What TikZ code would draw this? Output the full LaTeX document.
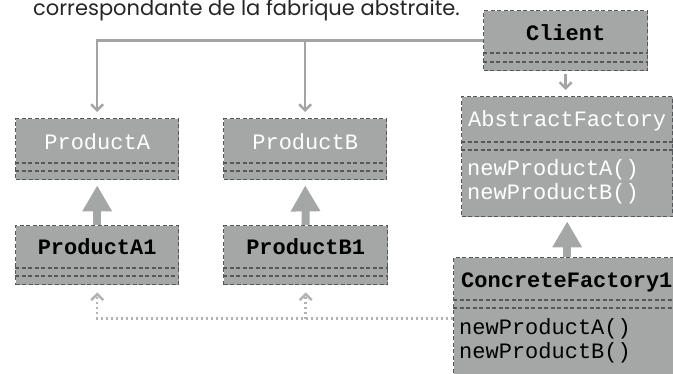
\documentclass[tikz,border=0pt]{standalone}
\usepackage{fontspec}
\setmainfont{Poppins}
\setmonofont{Liberation Mono}
\usetikzlibrary{arrows.meta,calc}
\definecolor{boxfill}{HTML}{A5A7A6}
\definecolor{boxline}{HTML}{55585B}
\definecolor{linkgray}{HTML}{A4A4A4}
\def\classseps(#1)(#2:#3){\draw[sepline] ($(#1.north west)+(0,#2)$) -- ($(#1.north east)+(0,#2)$);
  \draw[sepline] ($(#1.north west)+(0,#3)$) -- ($(#1.north east)+(0,#3)$);}
\tikzset{
  classbox/.style={draw=boxline, fill=boxfill, line width=1.4pt, dash pattern=on 4pt off 2.5pt, anchor=north west, inner sep=0pt},
  sepline/.style={draw=boxline, line width=1.4pt, dash pattern=on 4pt off 2.5pt},
  absname/.style={text=white, anchor=base, font=\fontsize{22}{26}\selectfont\ttfamily},
  conname/.style={text=black, anchor=base, font=\fontsize{22}{26}\selectfont\ttfamily\bfseries},
  method/.style={anchor=base west, inner sep=0pt, font=\fontsize{22}{26}\selectfont\ttfamily},
  uses/.style={draw=linkgray, line width=2.5pt, -{Straight Barb[length=6pt,width=12pt]}},
  creates/.style={draw=linkgray!85, line width=2.5pt, dash pattern=on 2pt off 3pt, -{Straight Barb[length=6pt,width=12pt]}},
  inherits/.style={draw=boxfill, line width=8pt, -{Triangle[length=26pt,width=28pt]}, fill=boxfill},
}
\begin{document}
\begin{tikzpicture}[x=1pt, y=-1pt]
		%%%%% START %%%%%
		\useasboundingbox (0,0) rectangle (673,374);
		\clip (0,0) rectangle (673,374);
		
		\node[anchor=base west, inner sep=0pt, text=black!85, font=\fontsize{21}{25}\selectfont] (caption) at (33,16) {correspondante de la fabrique abstraite.};
		
		% classes
		\node[classbox, minimum width=164pt, minimum height=60pt] (client) at (483,10) {};
		\node[classbox, minimum width=211pt, minimum height=120pt] (abstract) at (461,96) {};
		\node[classbox, minimum width=163pt, minimum height=61pt] (prodA) at (15,118) {};
		\node[classbox, minimum width=163pt, minimum height=61pt] (prodB) at (223,118) {};
		\node[classbox, minimum width=163pt, minimum height=59pt] (prodA1) at (15,225) {};
		\node[classbox, minimum width=164pt, minimum height=59pt] (prodB1) at (223,225) {};
		\node[classbox, minimum width=228pt, minimum height=122pt] (concrete) at (453,257) {};
		
		\classseps(client)(43:52)
		\classseps(abstract)(46:54)
		\classseps(prodA)(45:53)
		\classseps(prodB)(45:53)
		\classseps(prodA1)(43:51)
		\classseps(prodB1)(43:51)
		\classseps(concrete)(43:51)
		
		\node[conname] (clientname) at ($(client.north)+(0,31)$) {Client};
		\node[absname] (abstractname) at ($(abstract.north)+(0,31)$) {AbstractFactory};
		\node[absname] (prodAname) at ($(prodA.north)+(0,32)$) {ProductA};
		\node[absname] (prodBname) at ($(prodB.north)+(0,32)$) {ProductB};
		\node[conname] (prodA1name) at ($(prodA1.north)+(0,30)$) {ProductA1};
		\node[conname] (prodB1name) at ($(prodB1.north)+(0,30)$) {ProductB1};
		\node[conname, anchor=base west, inner sep=0pt] (concretename) at ($(concrete.north west)+(8,31)$) {ConcreteFactory1};
		
		\node[method, text=white] (abstractA) at ($(abstract.north west)+(6,80)$) {newProductA()};
		\node[method, text=white] (abstractB) at ($(abstract.north west)+(6,104)$) {newProductB()};
		\node[method, text=black] (concreteA) at ($(concrete.north west)+(6,78)$) {newProductA()};
		\node[method, text=black] (concreteB) at ($(concrete.north west)+(6,102)$) {newProductB()};
		
		% links
		\draw[uses, shorten >=6pt] (client.west) -| (prodA.north);
		\draw[uses, shorten >=6pt] (client.west -| prodB.north) -- (prodB.north);
		\draw[uses, shorten <=3pt, shorten >=6pt] (client.south) -- (client.south |- abstract.north);
		
		\draw[inherits, shorten >=5pt] (prodA1.north) -- (prodA.south);
		\draw[inherits, shorten >=5pt] (prodB1.north) -- (prodB.south);
		\draw[inherits, shorten >=4pt] (abstract.south |- concrete.north) -- (abstract.south);
		
		\draw[creates, shorten >=7pt] (concrete.west) -| (prodA1.south);
		\draw[creates, shorten >=7pt] (concrete.west -| prodB1.south) -- (prodB1.south);
		%%%%% END %%%%%
	\end{tikzpicture}
\end{document}
